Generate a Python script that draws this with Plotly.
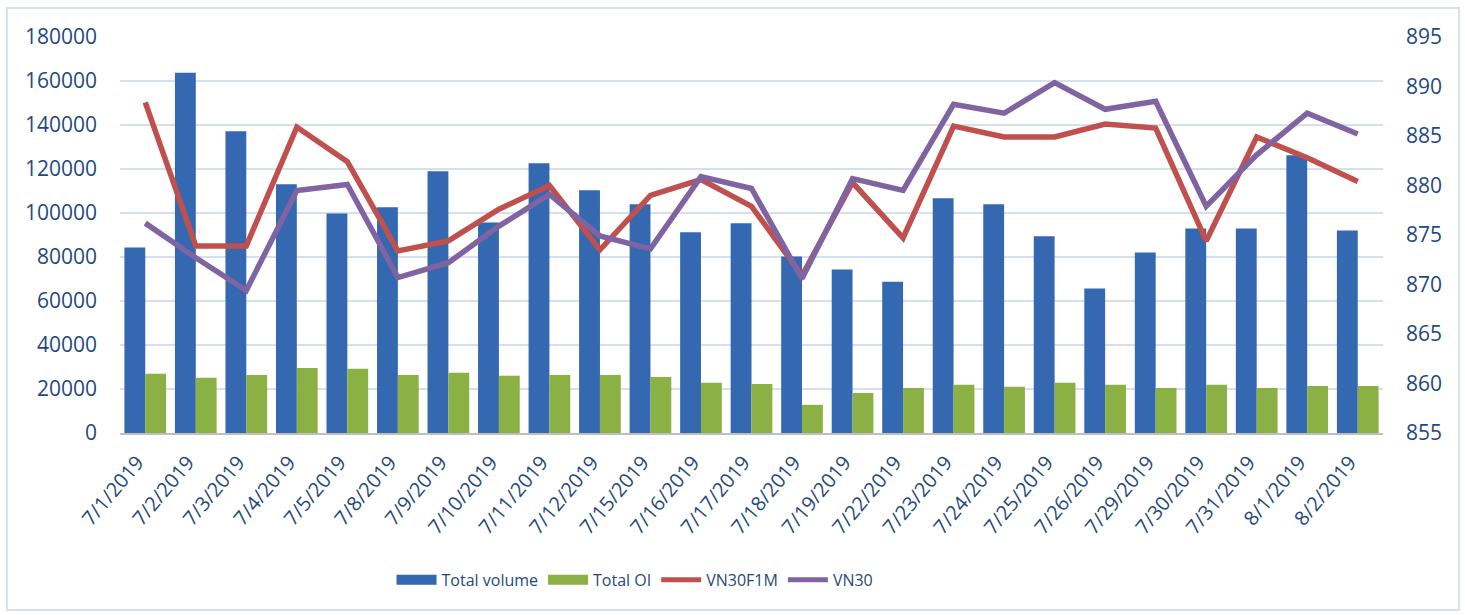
import plotly.graph_objects as go

dates = ["7/1/2019", "7/2/2019", "7/3/2019", "7/4/2019", "7/5/2019", "7/8/2019",
         "7/9/2019", "7/10/2019", "7/11/2019", "7/12/2019", "7/15/2019", "7/16/2019",
         "7/17/2019", "7/18/2019", "7/19/2019", "7/22/2019", "7/23/2019", "7/24/2019",
         "7/25/2019", "7/26/2019", "7/29/2019", "7/30/2019", "7/31/2019", "8/1/2019",
         "8/2/2019"]

total_volume = [84300, 163700, 137200, 113100, 99800, 102600, 119000, 95700, 122600,
                110300, 104000, 91200, 95300, 80200, 74300, 68800, 106700, 104000,
                89400, 65700, 82100, 93000, 93000, 126300, 92100]

total_oi = [26900, 25100, 26400, 29600, 29200, 26400, 27400, 26000, 26400, 26400,
            25500, 22800, 22300, 12800, 18200, 20500, 21900, 21000, 22800, 21900,
            20500, 21900, 20500, 21400, 21400]

vn30f1m = [888.4, 873.9, 873.9, 885.9, 882.4, 873.4, 874.4, 877.6, 880.0, 873.5,
           879.0, 880.6, 877.9, 870.9, 880.3, 874.7, 886.0, 884.9, 884.9, 886.2,
           885.8, 874.4, 884.9, 882.8, 880.4]

vn30 = [876.2, 872.7, 869.4, 879.5, 880.1, 870.7, 872.2, 875.9, 879.1, 874.9,
        873.6, 880.9, 879.7, 870.6, 880.7, 879.5, 888.2, 887.3, 890.4, 887.7,
        888.5, 877.9, 883.1, 887.3, 885.2]

left_ticks = list(range(0, 180001, 20000))
right_ticks = list(range(855, 896, 5))

BLUE = "#3468B0"
GREEN = "#8BB043"
RED = "#C0504D"
PURPLE = "#8064A2"
TXT = "#1F497D"
FONT = "Open Sans"

fig = go.Figure()
fig.add_trace(go.Bar(x=dates, y=total_volume, name="Total volume", marker_color=BLUE,
                     marker_line_width=0, showlegend=False, yaxis="y"))
fig.add_trace(go.Bar(x=dates, y=total_oi, name="Total OI", marker_color=GREEN,
                     marker_line_width=0, showlegend=False, yaxis="y"))
fig.add_trace(go.Scatter(x=dates, y=vn30f1m, name="VN30F1M", mode="lines",
                         line=dict(color=RED, width=5.5), yaxis="y2", showlegend=False))
fig.add_trace(go.Scatter(x=dates, y=vn30, name="VN30", mode="lines",
                         line=dict(color=PURPLE, width=5.5), yaxis="y2", showlegend=False))

# legend entries
for name, col in [("Total volume", BLUE), ("Total OI", GREEN), ("VN30F1M", RED), ("VN30", PURPLE)]:
    w = 14 if name.startswith("Total") else 5
    fig.add_trace(go.Scatter(x=[None], y=[None], name=name, mode="lines",
                             line=dict(color=col, width=w), yaxis="y2"))

fig.update_layout(
    width=1465, height=615,
    margin=dict(l=120, r=82, t=37, b=182),
    paper_bgcolor="white", plot_bgcolor="white",
    barmode="group", bargap=0.175, bargroupgap=0,
    font=dict(family=FONT, color=TXT, size=20),
    xaxis=dict(type="category", tickangle=-50, showgrid=False, showline=True,
               linecolor="#BFBFBF", linewidth=1.5, ticks="",
               tickfont=dict(size=20, color=TXT), ticklabelstandoff=8,
               ticklabelshift=-8),
    yaxis=dict(range=[0, 180000], tickvals=left_ticks, tickformat="d", showgrid=True,
               gridcolor="#D5E0EF", gridwidth=1.5, zeroline=False, showline=False,
               ticks="", tickfont=dict(size=21, color=TXT), ticklabelstandoff=22),
    yaxis2=dict(range=[855, 895], tickvals=right_ticks, overlaying="y", side="right",
                showgrid=False, zeroline=False, showline=False, ticks="",
                tickfont=dict(size=21, color=TXT), ticklabelstandoff=22),
    legend=dict(orientation="h", x=0.215, xanchor="left", y=-0.371, yanchor="middle",
                font=dict(family=FONT, size=16, color=TXT), itemwidth=40,
                tracegroupgap=0, bgcolor="rgba(0,0,0,0)"),
    shapes=[dict(type="rect", xref="paper", yref="paper",
                 x0=-0.0895, x1=1.0602, y0=-0.447, y1=1.0732,
                 line=dict(color="#D9E1EC", width=2), fillcolor="rgba(0,0,0,0)",
                 layer="below")],
)

fig.write_html("out.html", config={"displayModeBar": False},
               post_script="document.body.style.margin='0';")
